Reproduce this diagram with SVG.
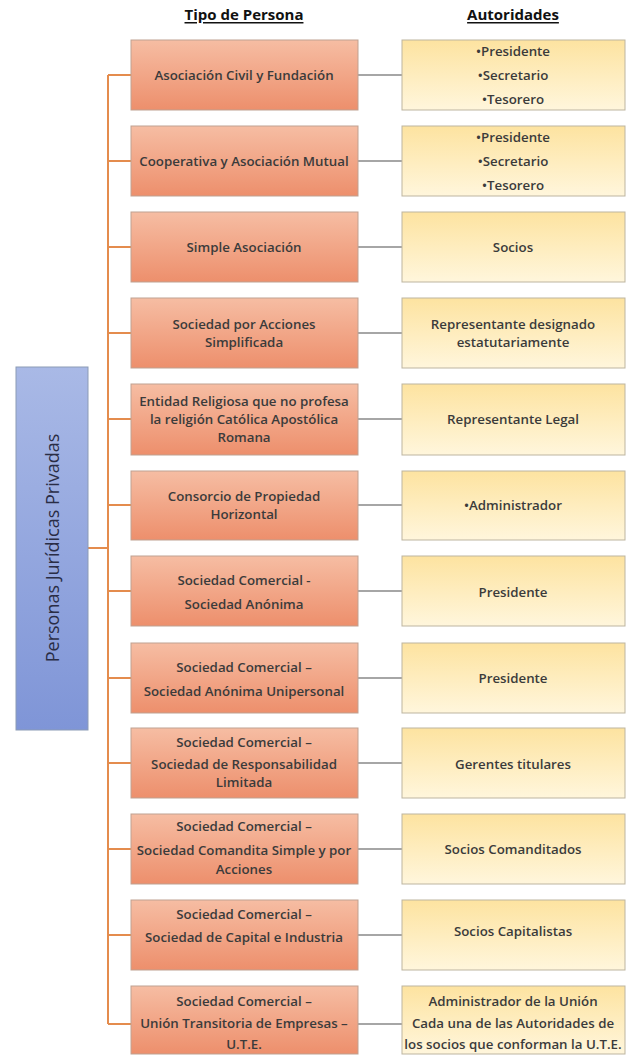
<svg xmlns="http://www.w3.org/2000/svg" width="629" height="1055" viewBox="0 0 629 1055">
<defs>
<linearGradient id="gO" x1="0" y1="0" x2="0" y2="1"><stop offset="0" stop-color="#f6bda3"/><stop offset="1" stop-color="#ed8f6c"/></linearGradient>
<linearGradient id="gY" x1="0" y1="0" x2="0" y2="1"><stop offset="0" stop-color="#fde3a0"/><stop offset="1" stop-color="#fff6dc"/></linearGradient>
<linearGradient id="gB" x1="0" y1="0" x2="0" y2="1"><stop offset="0" stop-color="#a9b9e6"/><stop offset="1" stop-color="#7f95d7"/></linearGradient>
<style>
.o{fill:url(#gO);stroke:#bfa191;stroke-width:1}
.y{fill:url(#gY);stroke:#bdb5a0;stroke-width:1}
.b{fill:url(#gB);stroke:#8c9bb5;stroke-width:1}
text{font-family:"Open Sans","Liberation Sans",sans-serif;font-size:13.3px;font-weight:600;fill:#3b3b3b;text-anchor:middle;dominant-baseline:central}
.h{font-size:15px;font-weight:700;fill:#111;text-decoration:underline}
.r{font-size:18px;font-weight:400;fill:#2a2d45}
.tr{stroke:#e48c4d;stroke-width:2;fill:none}
.gr{stroke:#a6a6a6;stroke-width:2;fill:none}
</style>
</defs>
<g id="headers">
<text class="h" x="244" y="14">Tipo de Persona</text>
<text class="h" x="513" y="14">Autoridades</text>
</g>
<g id="connectors">
<path class="tr" d="M88 548H108M108 75V1024M108 75H131M108 161H131M108 247H131M108 333H131M108 419H131M108 505H131M108 591H131M108 678H131M108 763H131M108 849H131M108 935H131M108 1024H131"/>
<path class="gr" d="M358 75H402M358 161H402M358 247H402M358 333H402M358 419H402M358 505H402M358 591H402M358 678H402M358 763H402M358 849H402M358 935H402M358 1024H402"/>
</g>
<g id="root"><rect class="b" x="16" y="367" width="72" height="363"/><text class="r" transform="translate(52 548) rotate(-90)">Personas Jurídicas Privadas</text></g>
<g id="t1"><rect class="o" x="131" y="40" width="227" height="70"/><text x="244" y="75">Asociación Civil y Fundación</text></g>
<g id="a1"><rect class="y" x="402" y="40" width="223" height="70"/><text x="513" y="51">•Presidente</text><text x="513" y="75">•Secretario</text><text x="513" y="99">•Tesorero</text></g>
<g id="t2"><rect class="o" x="131" y="126" width="227" height="70"/><text x="244" y="161">Cooperativa y Asociación Mutual</text></g>
<g id="a2"><rect class="y" x="402" y="126" width="223" height="70"/><text x="513" y="137">•Presidente</text><text x="513" y="161">•Secretario</text><text x="513" y="185">•Tesorero</text></g>
<g id="t3"><rect class="o" x="131" y="212" width="227" height="70"/><text x="244" y="247">Simple Asociación</text></g>
<g id="a3"><rect class="y" x="402" y="212" width="223" height="70"/><text x="513" y="247">Socios</text></g>
<g id="t4"><rect class="o" x="131" y="298" width="227" height="70"/><text x="244" y="324">Sociedad por Acciones</text><text x="244" y="342">Simplificada</text></g>
<g id="a4"><rect class="y" x="402" y="298" width="223" height="70"/><text x="513" y="324">Representante designado</text><text x="513" y="342">estatutariamente</text></g>
<g id="t5"><rect class="o" x="131" y="384" width="227" height="71"/><text x="244" y="401">Entidad Religiosa que no profesa</text><text x="244" y="419">la religión Católica Apostólica</text><text x="244" y="437">Romana</text></g>
<g id="a5"><rect class="y" x="402" y="384" width="223" height="71"/><text x="513" y="419">Representante Legal</text></g>
<g id="t6"><rect class="o" x="131" y="471" width="227" height="69"/><text x="244" y="496">Consorcio de Propiedad</text><text x="244" y="514">Horizontal</text></g>
<g id="a6"><rect class="y" x="402" y="471" width="223" height="69"/><text x="513" y="505">•Administrador</text></g>
<g id="t7"><rect class="o" x="131" y="556" width="227" height="70"/><text x="244" y="580">Sociedad Comercial -</text><text x="244" y="604">Sociedad Anónima</text></g>
<g id="a7"><rect class="y" x="402" y="556" width="223" height="70"/><text x="513" y="592">Presidente</text></g>
<g id="t8"><rect class="o" x="131" y="643" width="227" height="70"/><text x="244" y="667">Sociedad Comercial –</text><text x="244" y="691">Sociedad Anónima Unipersonal</text></g>
<g id="a8"><rect class="y" x="402" y="643" width="223" height="70"/><text x="513" y="678">Presidente</text></g>
<g id="t9"><rect class="o" x="131" y="728" width="227" height="70"/><text x="244" y="742">Sociedad Comercial –</text><text x="244" y="764">Sociedad de Responsabilidad</text><text x="244" y="782">Limitada</text></g>
<g id="a9"><rect class="y" x="402" y="728" width="223" height="70"/><text x="513" y="764">Gerentes titulares</text></g>
<g id="t10"><rect class="o" x="131" y="814" width="227" height="70"/><text x="244" y="826">Sociedad Comercial –</text><text x="244" y="850">Sociedad Comandita Simple y por</text><text x="244" y="869">Acciones</text></g>
<g id="a10"><rect class="y" x="402" y="814" width="223" height="70"/><text x="513" y="849">Socios Comanditados</text></g>
<g id="t11"><rect class="o" x="131" y="900" width="227" height="70"/><text x="244" y="914">Sociedad Comercial –</text><text x="244" y="937">Sociedad de Capital e Industria</text></g>
<g id="a11"><rect class="y" x="402" y="900" width="223" height="70"/><text x="513" y="931">Socios Capitalistas</text></g>
<g id="t12"><rect class="o" x="131" y="986" width="227" height="68"/><text x="244" y="1001">Sociedad Comercial –</text><text x="244" y="1023">Unión Transitoria de Empresas –</text><text x="244" y="1044">U.T.E.</text></g>
<g id="a12"><rect class="y" x="402" y="986" width="223" height="68"/><text x="513" y="1001">Administrador de la Unión</text><text x="513" y="1023">Cada una de las Autoridades de</text><text x="513" y="1044">los socios que conforman la U.T.E.</text></g>
</svg>
